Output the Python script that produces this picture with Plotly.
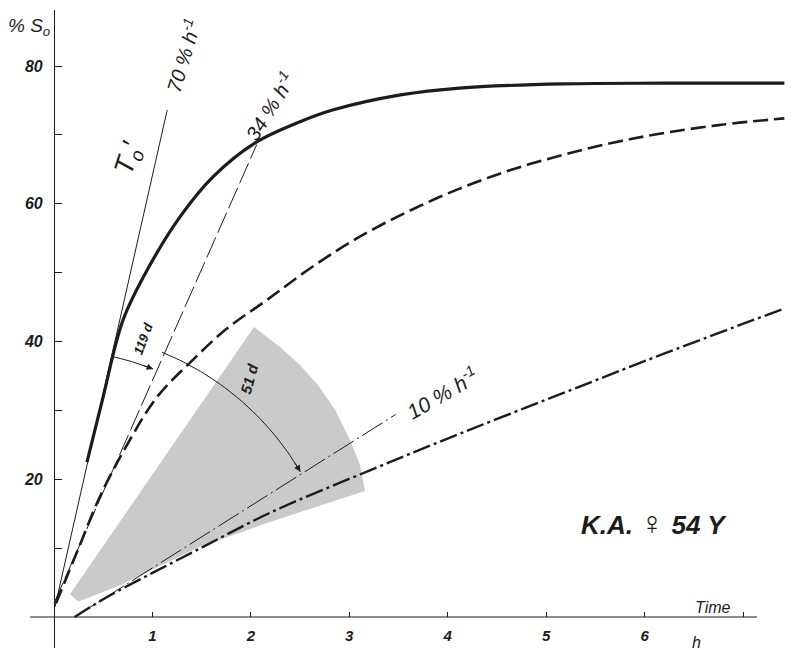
import numpy as np
import plotly.graph_objects as go

# ---------------- data ----------------
solid_t = [0.335, 0.498, 0.701, 0.975, 1.28, 1.615, 2.04, 2.50, 2.83, 3.52, 4.12, 5.17, 6.21, 7.42]
solid_y = [22.5, 31.9, 43.1, 51.1, 58.1, 63.9, 68.8, 71.9, 73.6, 75.8, 76.8, 77.4, 77.5, 77.5]

dashed_t = [0.02, 0.25, 0.467, 0.77, 1.05, 1.38, 1.75, 2.16, 2.60, 3.08, 3.60, 4.12,
            4.64, 5.17, 5.69, 6.21, 6.80, 7.42]
dashed_y = [2.0, 10.0, 17.5, 25.7, 32.0, 36.9, 41.8, 46.0, 50.6, 55.0, 58.9, 62.2,
            64.9, 67.1, 68.9, 70.3, 71.5, 72.4]

dashdot_t = [0.21, 0.54, 1.00, 1.45, 2.19, 3.21, 4.12, 5.17, 6.21, 7.42]
dashdot_y = [0.0, 2.9, 6.4, 9.7, 15.1, 21.3, 26.6, 32.5, 38.3, 44.8]

line70_t = [0.01, 1.15]
line70_y = [1.45, 73.6]
line34_t = [0.0, 2.06]
line34_y = [2.0, 68.6]
line10_t = [0.21, 3.47]
line10_y = [0.0, 29.4]

wedge_t = [0.163, 2.032, 2.296, 2.499, 2.682, 2.855, 3.007, 3.109, 3.16, 2.194, 1.483, 0.671, 0.244, 0.163]
wedge_y = [3.34, 42.1, 39.2, 36.6, 33.7, 30.1, 25.7, 22.1, 18.3, 13.8, 10.2, 4.6, 2.2, 3.34]

x_tick_vals = [1, 2, 3, 4, 5, 6]
x_tick_text = ["1", "2", "3", "4", "5", "6"]
x_minor_vals = [7]
y_tick_vals = [20, 40, 60, 80]
y_tick_text = ["20", "40", "60", "80"]
y_minor_vals = [10, 30, 50, 70]

# angle arcs around the origin: radius (screen px), start / end angle (deg)
arc119 = (267, 77.3, 68.2)
arc51 = (286, 67.8, 30.5)

# ---------------- layout geometry ----------------
OFF = 8                        # page body margin of the browser
W, H = 799 - OFF, 650 - OFF
ML, MR, MT, MB = 25 - OFF, 8, 10 - OFF, 10 - OFF
PXH, PXP = 98.43, 6.8875       # px per hour, px per percent
X0, Y0 = 54 - OFF, 617 - OFF   # origin in figure pixels
xmin, xmax = -(X0 - ML) / PXH, (W - MR - X0) / PXH
ymin, ymax = -(H - MB - Y0) / PXP, (Y0 - MT) / PXP

INK = "#1c1c1c"
FONT = "Liberation Sans"

fig = go.Figure()

# shaded sector
fig.add_trace(go.Scatter(x=wedge_t, y=wedge_y, fill="toself", mode="lines",
                         fillcolor="rgb(202,202,202)", line=dict(width=0),
                         hoverinfo="skip"))

# straight rate lines
fig.add_trace(go.Scatter(x=line70_t, y=line70_y, mode="lines",
                         line=dict(color=INK, width=1)))
fig.add_trace(go.Scatter(x=line34_t, y=line34_y, mode="lines",
                         line=dict(color=INK, width=1, dash="22px,5px")))
fig.add_trace(go.Scatter(x=line10_t, y=line10_y, mode="lines",
                         line=dict(color=INK, width=1, dash="24px,4px,2px,4px")))

# curves
fig.add_trace(go.Scatter(x=solid_t, y=solid_y, mode="lines", line_shape="spline",
                         line=dict(color=INK, width=3.2)))
fig.add_trace(go.Scatter(x=dashed_t, y=dashed_y, mode="lines", line_shape="spline",
                         line=dict(color=INK, width=2.6, dash="15px,6px")))
fig.add_trace(go.Scatter(x=dashdot_t, y=dashdot_y, mode="lines", line_shape="spline",
                         line=dict(color=INK, width=2.4, dash="18px,4px,3px,4px")))


def arc_pts(r, a0, a1, n=40):
    a = np.radians(np.linspace(a0, a1, n))
    return r * np.cos(a) / PXH, r * np.sin(a) / PXP


for (r, a0, a1) in (arc119, arc51):
    ax_, ay_ = arc_pts(r, a0, a1)
    fig.add_trace(go.Scatter(x=ax_, y=ay_, mode="lines", line=dict(color=INK, width=1)))
    tx, ty = arc_pts(r, a1 + 2.5, a1, 2)
    fig.add_annotation(x=tx[1], y=ty[1], ax=tx[0], ay=ty[0], xref="x", yref="y",
                       axref="x", ayref="y", text="", showarrow=True,
                       arrowhead=2, arrowsize=1.3, arrowwidth=1, arrowcolor=INK)

# x-axis line
fig.add_shape(type="line", x0=-(X0 - (30 - OFF)) / PXH, x1=(757 - OFF - X0) / PXH,
              y0=0, y1=0, line=dict(color=INK, width=1.2))


def label(txt, x, y, size, angle=0, bold=False, italic=True):
    fig.add_annotation(x=x, y=y, xref="x", yref="y", text=txt, showarrow=False,
                       textangle=angle,
                       font=dict(family=FONT, size=size, color=INK,
                                 style="italic" if italic else "normal",
                                 weight="bold" if bold else "normal"))


label("% S<sub>o</sub>", -0.25, 85.6, 19)
label("70 % h<sup>-1</sup>", 1.31, 81.6, 20, angle=-73)
label("34 % h<sup>-1</sup>", 2.19, 74.2, 20, angle=-58)
label("10 % h<sup>-1</sup>", 3.94, 32.5, 21, angle=-30)
label("T<sub>o</sub>′", 0.77, 66.6, 27, angle=-72)
label("119 d", 0.904, 40.5, 13, angle=-70, bold=True)
label("51 d", 1.98, 34.7, 15, angle=-75, bold=True)
label("K.A. <span style='font-size:32px;font-weight:normal'>♀</span> 54 Y",
      6.1, 13.6, 26, bold=True)
label("Time", 6.695, 1.45, 16)
label("h", 6.53, -3.7, 16)

fig.update_layout(
    width=W, height=H, showlegend=False,
    paper_bgcolor="white", plot_bgcolor="white",
    margin=dict(l=ML, r=MR, t=MT, b=MB, autoexpand=False),
    xaxis=dict(range=[xmin, xmax], showgrid=False, zeroline=False, showline=False,
               anchor="free", position=(0 - ymin) / (ymax - ymin),
               tickmode="array", tickvals=x_tick_vals, ticktext=x_tick_text,
               ticks="inside", ticklen=5, tickcolor=INK, tickwidth=1,
               ticklabelstandoff=8,
               minor=dict(tickmode="array", tickvals=x_minor_vals, ticks="inside",
                          ticklen=5, tickcolor=INK, tickwidth=1, showgrid=False),
               tickfont=dict(family=FONT, size=15, color=INK, style="italic",
                             weight="bold")),
    yaxis=dict(range=[ymin, ymax], showgrid=False, zeroline=False, showline=True,
               linecolor=INK, linewidth=1.2,
               anchor="free", position=(0 - xmin) / (xmax - xmin),
               tickmode="array", tickvals=y_tick_vals, ticktext=y_tick_text,
               ticks="inside", ticklen=7, tickcolor=INK, tickwidth=1,
               ticklabelstandoff=8,
               minor=dict(tickmode="array", tickvals=y_minor_vals, ticks="inside",
                          ticklen=7, tickcolor=INK, tickwidth=1, showgrid=False),
               tickfont=dict(family=FONT, size=16, color=INK, style="italic",
                             weight="bold")),
)

fig.write_html("out.html")
